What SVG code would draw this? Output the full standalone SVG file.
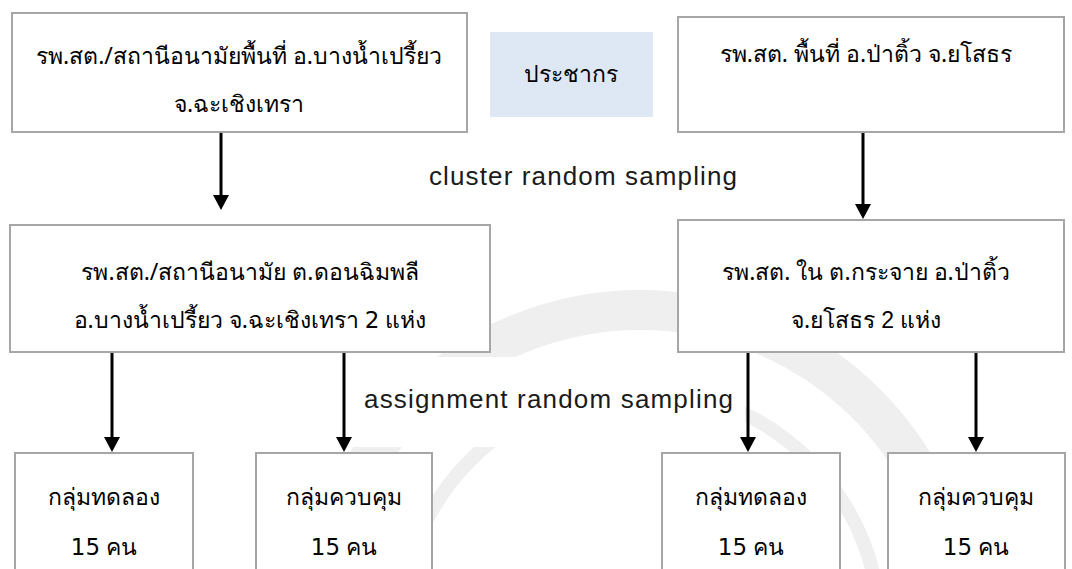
<svg xmlns="http://www.w3.org/2000/svg" width="1072" height="569" viewBox="0 0 1072 569">
  <style>
    .box { fill: #ffffff; stroke: #a6a6a6; stroke-width: 2; }
    .pop { fill: #dde8f4; stroke: none; }
    .th { font-family: "Noto Sans", "DejaVu Sans", sans-serif; font-size: 23px; fill: #000; text-anchor: middle; }
    .en { font-family: "Liberation Sans", Arial, sans-serif; font-size: 26px; fill: #1a1a1a; }
    .num { font-family: "DejaVu Sans", sans-serif; font-weight: normal; }
    .lnum { font-family: "Liberation Sans", Arial, sans-serif; }
    .conn { stroke: #000; stroke-width: 3; fill: none; marker-end: url(#arrow); }
    .wm { fill: none; stroke: #efefef; }
  </style>
  <defs>
    <marker id="arrow" markerUnits="userSpaceOnUse" markerWidth="15" markerHeight="16" viewBox="0 0 15 16" refX="5" refY="8" orient="auto">
      <path d="M0,0 L15,8 L0,16 Z" fill="#000"/>
    </marker>
  </defs>
  <rect width="1072" height="569" fill="#ffffff"/>
  <g id="watermark">
    <circle class="wm" cx="640" cy="630" r="320" stroke-width="40"/>
    <circle class="wm" cx="640" cy="630" r="240" stroke-width="14"/>
    <rect x="353" y="357" width="392" height="90" fill="#ffffff"/>
  </g>
  <g id="connectors">
    <line class="conn" x1="221" y1="132" x2="221" y2="200"/>
    <line class="conn" x1="863" y1="132" x2="863" y2="209"/>
    <line class="conn" x1="112" y1="352" x2="112" y2="442"/>
    <line class="conn" x1="344" y1="352" x2="344" y2="442"/>
    <line class="conn" x1="748" y1="352" x2="748" y2="442"/>
    <line class="conn" x1="976" y1="352" x2="976" y2="442"/>
  </g>
  <g id="n1">
    <rect class="box" x="12" y="13" width="455" height="119"/>
    <text class="th" x="239" y="64">รพ.สต./สถานีอนามัยพื้นที่ อ.บางน้ำเปรี้ยว</text>
    <text class="th" x="239" y="112">จ.ฉะเชิงเทรา</text>
  </g>
  <g id="n-pop">
    <rect class="pop" x="490" y="32" width="163" height="85"/>
    <text class="th" x="571" y="82">ประชากร</text>
  </g>
  <g id="n3">
    <rect class="box" x="678" y="17" width="386" height="115"/>
    <text class="th" x="866" y="62">รพ.สต. พื้นที่ อ.ป่าติ้ว จ.ยโสธร</text>
  </g>
  <g id="label-cluster">
    <text class="en" x="429" y="185" textLength="308" lengthAdjust="spacing">cluster random sampling</text>
  </g>
  <g id="n2">
    <rect class="box" x="10" y="225" width="480" height="127"/>
    <text class="th" x="250" y="280">รพ.สต./สถานีอนามัย ต.ดอนฉิมพลี</text>
    <text class="th" x="250" y="328">อ.บางน้ำเปรี้ยว จ.ฉะเชิงเทรา <tspan class="num">2</tspan> แห่ง</text>
  </g>
  <g id="n4">
    <rect class="box" x="678" y="220" width="386" height="132"/>
    <text class="th" x="866" y="280">รพ.สต. ใน ต.กระจาย อ.ป่าติ้ว</text>
    <text class="th" x="866" y="328">จ.ยโสธร <tspan class="lnum">2</tspan> แห่ง</text>
  </g>
  <g id="label-assign">
    <text class="en" x="364" y="408" textLength="369" lengthAdjust="spacing">assignment random sampling</text>
  </g>
  <g id="g1">
    <rect class="box" x="15" y="453" width="178" height="130"/>
    <text class="th" x="104" y="505">กลุ่มทดลอง</text>
    <text class="th" x="104" y="555"><tspan class="num">15</tspan> คน</text>
  </g>
  <g id="g2">
    <rect class="box" x="256" y="453" width="176" height="130"/>
    <text class="th" x="344" y="505">กลุ่มควบคุม</text>
    <text class="th" x="344" y="555"><tspan class="num">15</tspan> คน</text>
  </g>
  <g id="g3">
    <rect class="box" x="662" y="453" width="178" height="130"/>
    <text class="th" x="751" y="505">กลุ่มทดลอง</text>
    <text class="th" x="751" y="555"><tspan class="num">15</tspan> คน</text>
  </g>
  <g id="g4">
    <rect class="box" x="888" y="453" width="177" height="130"/>
    <text class="th" x="976" y="505">กลุ่มควบคุม</text>
    <text class="th" x="976" y="555"><tspan class="num">15</tspan> คน</text>
  </g>
</svg>
